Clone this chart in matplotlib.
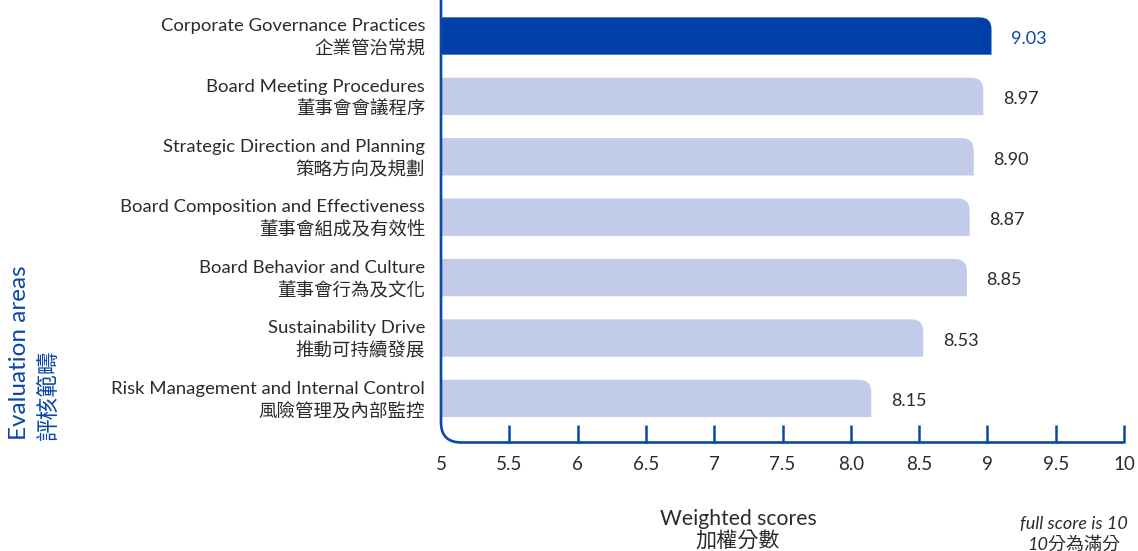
import numpy as np
import matplotlib.pyplot as plt
from matplotlib.path import Path
from matplotlib.patches import PathPatch

plt.rcParams['font.family'] = ['Lato', 'Noto Sans CJK TC', 'DejaVu Sans']

areas_en = ["Corporate Governance Practices", "Board Meeting Procedures",
            "Strategic Direction and Planning", "Board Composition and Effectiveness",
            "Board Behavior and Culture", "Sustainability Drive",
            "Risk Management and Internal Control"]
areas_zh = ["企業管治常規", "董事會會議程序", "策略方向及規劃", "董事會組成及有效性",
            "董事會行為及文化", "推動可持續發展", "風險管理及內部監控"]
scores = [9.03, 8.97, 8.90, 8.87, 8.85, 8.53, 8.15]
ticks = [5, 5.5, 6, 6.5, 7, 7.5, 8.0, 8.5, 9, 9.5, 10]
tick_labels = ["5", "5.5", "6", "6.5", "7", "7.5", "8.0", "8.5", "9", "9.5", "10"]

dark = "#0040A8"
light = "#C2CBE9"
axis_blue = "#0A47A8"
txt = "#2B2B2B"

def main():
    fig = plt.figure(figsize=(11.38, 5.51), dpi=100)
    ax = fig.add_axes([441/1138, 1 - 442.5/551, (1124 - 441)/1138, 442.5/551])
    x0, x1 = 5, 10
    ax.set_xlim(x0, x1)
    ax.set_ylim(6.73, -0.596)

    h = 0.618
    rx, ry = 0.09, 0.2   # corner rounding in data units
    for i, v in enumerate(scores):
        top, bot = i - h / 2, i + h / 2
        verts = [(x0, bot), (x0, top), (v - rx, top), (v, top), (v, top + ry),
                 (v, bot), (x0, bot)]
        codes = [Path.MOVETO, Path.LINETO, Path.LINETO, Path.CURVE3, Path.CURVE3,
                 Path.LINETO, Path.CLOSEPOLY]
        ax.add_patch(PathPatch(Path(verts, codes), facecolor=dark if i == 0 else light,
                               edgecolor="none", zorder=2))
        ax.annotate(f"{v:.2f}", (v, i), xytext=(14, -2), textcoords="offset points",
                    ha="left", va="center", fontsize=13,
                    color=axis_blue if i == 0 else txt)
        ax.text(-0.0234, i + 0.03, areas_en[i] + "\n" + areas_zh[i], transform=ax.get_yaxis_transform(),
                ha="right", va="center", fontsize=13.3, color=txt, linespacing=1.4)

    # axis line with rounded corner
    ylo, yhi = ax.get_ylim()
    crx, cry = 0.15, 0.33
    verts = [(x0, yhi), (x0, ylo - cry), (x0, ylo), (x0 + crx, ylo), (x1, ylo)]
    codes = [Path.MOVETO, Path.LINETO, Path.CURVE3, Path.CURVE3, Path.LINETO]
    ax.add_patch(PathPatch(Path(verts, codes), facecolor="none", edgecolor=axis_blue,
                           linewidth=1.9, clip_on=False, zorder=3))
    for s in ax.spines.values():
        s.set_visible(False)

    ax.set_yticks([])
    ax.set_xticks(ticks)
    ax.set_xticklabels(tick_labels, fontsize=13.5, color=txt)
    ax.tick_params(axis="x", direction="in", length=13, width=1.8, color=axis_blue, pad=10)
    ax.xaxis.get_major_ticks()[0].tick1line.set_visible(False)

    fig.text(738/1138, 1 - 530/551, "Weighted scores\n加權分數", ha="center", va="center",
             fontsize=15.2, color=txt, linespacing=1.1)
    fig.text(1074/1138, 1 - 534/551, "full score is 10\n10分為滿分", ha="center", va="center",
             fontsize=13, color=txt, style="italic", linespacing=1.3)
    fig.text(20/1138, 1 - 440/551, "Evaluation areas", rotation=90, ha="center", va="bottom",
             fontsize=17.5, color=axis_blue)
    fig.text(48/1138, 1 - 440/551, "評核範疇", rotation=90, ha="center", va="bottom",
             fontsize=16.3, color=axis_blue)

    fig.savefig("out.png", dpi=100)

if __name__ == "__main__":
    main()
